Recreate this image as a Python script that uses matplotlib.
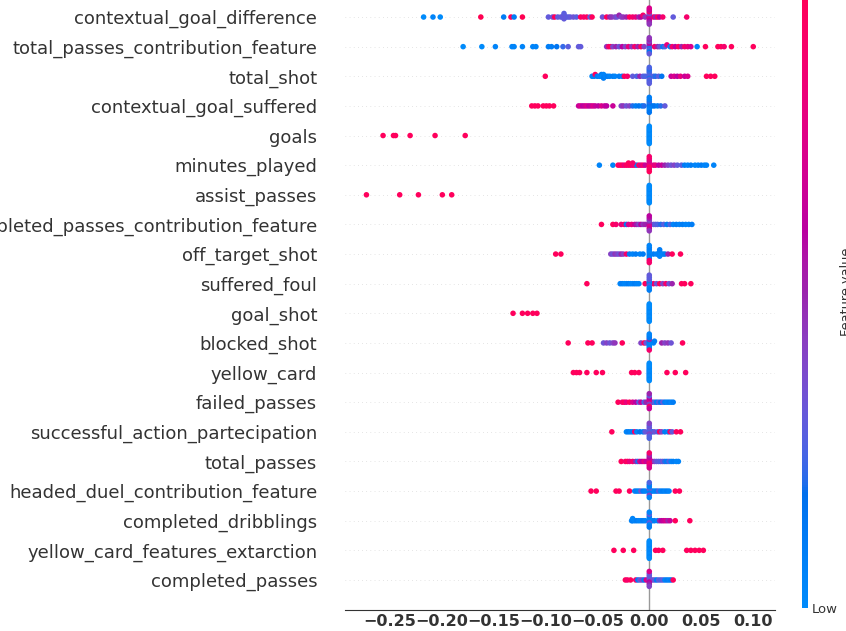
import numpy as np
import matplotlib
matplotlib.use("Agg")
import matplotlib.pyplot as plt
from matplotlib.colors import ListedColormap, Normalize
from matplotlib.cm import ScalarMappable

# features from top to bottom
features = [
    "contextual_goal_difference", "total_passes_contribution_feature", "total_shot",
    "contextual_goal_suffered", "goals", "minutes_played", "assist_passes",
    "completed_passes_contribution_feature", "off_target_shot", "suffered_foul",
    "goal_shot", "blocked_shot", "yellow_card", "failed_passes",
    "successful_action_partecipation", "total_passes", "headed_duel_contribution_feature",
    "completed_dribblings", "yellow_card_features_extarction", "completed_passes",
]

# SHAP values of the points off the centre line, one list per feature
shap_values = [
    [-0.217, -0.208, -0.201, -0.162, -0.140, -0.133, -0.130, -0.122, -0.097, -0.093, -0.091, -0.088,
     -0.085, -0.083, -0.082, -0.082, -0.082, -0.080, -0.078, -0.076, -0.073, -0.070, -0.066, -0.063,
     -0.060, -0.057, -0.055, -0.045, -0.041, -0.038, -0.036, -0.033, -0.031, -0.029, -0.027, -0.025,
     -0.022, -0.019, -0.016, -0.013, -0.010, -0.008, -0.006, -0.004, 0.004, 0.006, 0.008, 0.010,
     0.013, 0.023, 0.036],
    [-0.179, -0.161, -0.148, -0.132, -0.130, -0.122, -0.112, -0.109, -0.097, -0.094, -0.089, -0.083,
     -0.078, -0.068, -0.066, -0.041, -0.039, -0.037, -0.035, -0.032, -0.029, -0.026, -0.023, -0.020,
     -0.017, -0.014, -0.011, -0.008, -0.005, 0.005, 0.008, 0.010, 0.013, 0.015, 0.017, 0.020, 0.022,
     0.025, 0.028, 0.031, 0.034, 0.037, 0.040, 0.046, 0.054, 0.066, 0.069, 0.072, 0.079, 0.100],
    [-0.100, -0.055, -0.053, -0.052, -0.050, -0.048, -0.046, -0.046, -0.045, -0.044, -0.044, -0.042,
     -0.040, -0.038, -0.035, -0.033, -0.029, -0.026, -0.024, -0.021, -0.016, -0.012, -0.009, -0.006,
     -0.004, 0.004, 0.006, 0.009, 0.012, 0.021, 0.024, 0.027, 0.030, 0.034, 0.037, 0.055, 0.059, 0.063],
    [-0.113, -0.110, -0.107, -0.102, -0.099, -0.096, -0.092, -0.068, -0.066, -0.064, -0.062, -0.060,
     -0.058, -0.056, -0.054, -0.052, -0.049, -0.046, -0.043, -0.041, -0.035, -0.027, -0.025, -0.022,
     -0.019, -0.016, -0.013, -0.010, -0.007, -0.005, 0.003, 0.005, 0.008, 0.011, 0.015],
    [-0.256, -0.246, -0.244, -0.230, -0.206, -0.177],
    [-0.048, -0.035, -0.030, -0.028, -0.026, -0.024, -0.022, -0.020, -0.018, -0.016, -0.014, -0.012,
     -0.010, -0.008, -0.006, -0.004, 0.004, 0.006, 0.009, 0.012, 0.015, 0.018, 0.021, 0.024, 0.027,
     0.031, 0.034, 0.037, 0.040, 0.044, 0.047, 0.050, 0.053, 0.055, 0.062, -0.020, -0.016],
    [-0.272, -0.240, -0.222, -0.199, -0.190],
    [-0.046, -0.035, -0.032, -0.027, -0.024, -0.022, -0.020, -0.017, -0.014, -0.012, -0.010, -0.008,
     -0.006, -0.004, 0.004, 0.006, 0.008, 0.011, 0.014, 0.017, 0.020, 0.023, 0.026, 0.029, 0.032,
     0.035, 0.038, 0.041],
    [-0.090, -0.085, -0.037, -0.035, -0.033, -0.031, -0.029, -0.027, -0.025, -0.022, -0.019, -0.016,
     -0.013, -0.009, -0.006, 0.004, 0.007, 0.009, 0.010, 0.010, 0.010, 0.010, 0.013, 0.015, 0.018,
     0.022, 0.030],
    [-0.060, -0.028, -0.026, -0.024, -0.022, -0.020, -0.018, -0.016, -0.014, -0.012, -0.010, -0.004,
     0.004, 0.007, 0.010, 0.013, 0.016, 0.019, 0.022, 0.031, 0.034, 0.040],
    [-0.131, -0.122, -0.117, -0.112, -0.108],
    [-0.078, -0.059, -0.055, -0.044, -0.041, -0.038, -0.035, -0.033, -0.026, -0.008, -0.005, -0.003,
     0.004, 0.005, 0.012, 0.015, 0.018, 0.021, 0.032],
    [-0.073, -0.070, -0.067, -0.060, -0.051, -0.045, -0.017, -0.014, -0.010, 0.017, 0.025, 0.035],
    [-0.030, -0.026, -0.024, -0.022, -0.019, -0.016, -0.013, -0.010, -0.008, -0.005, -0.003, 0.003,
     0.005, 0.007, 0.009, 0.011, 0.013, 0.015, 0.017, 0.019, 0.021, 0.023],
    [-0.036, -0.022, -0.020, -0.018, -0.016, -0.014, -0.012, -0.009, -0.006, -0.004, 0.003, 0.005,
     0.008, 0.010, 0.012, 0.015, 0.018, 0.020, 0.022, 0.026, 0.030],
    [-0.027, -0.023, -0.021, -0.019, -0.016, -0.013, -0.011, -0.009, -0.007, -0.005, -0.003, 0.003,
     0.005, 0.007, 0.009, 0.011, 0.013, 0.015, 0.017, 0.019, 0.021, 0.023, 0.026, 0.028],
    [-0.056, -0.051, -0.032, -0.029, -0.019, -0.014, -0.012, -0.010, -0.008, -0.006, -0.004, 0.003,
     0.005, 0.007, 0.009, 0.011, 0.013, 0.015, 0.017, 0.019, 0.025, 0.029],
    [-0.017, -0.016, -0.016, -0.014, -0.012, -0.010, -0.008, -0.006, -0.004, 0.003, 0.005, 0.008,
     0.010, 0.012, 0.014, 0.016, 0.018, 0.020, 0.025, 0.039],
    [-0.034, -0.025, -0.015, 0.006, 0.009, 0.013, 0.036, 0.040, 0.044, 0.048, 0.052],
    [-0.023, -0.021, -0.018, -0.013, -0.011, -0.009, -0.007, -0.005, -0.003, 0.003, 0.005, 0.007,
     0.009, 0.011, 0.013, 0.015, 0.017, 0.019, 0.021, 0.023],
]

# normalised feature values (0 = low, 1 = high) matching shap_values
feature_values = [
    [0.0, 0.05, 0.0, 1.0, 0.1, 0.95, 0.1, 1.0, 0.3, 0.33, 0.95, 0.3, 0.3, 0.28, 0.33, 0.3, 0.28, 0.3,
     0.28, 0.3, 0.33, 0.28, 0.95, 0.88, 0.95, 0.3, 0.95, 0.33, 0.95, 0.5, 0.45, 0.4, 0.33, 0.5, 0.4,
     0.45, 0.5, 0.95, 0.88, 0.8, 0.5, 0.6, 0.88, 0.45, 0.88, 0.5, 0.95, 0.6, 0.88, 0.3, 0.88],
    [0.0, 0.0, 0.05, 0.05, 0.05, 0.05, 0.05, 0.05, 0.1, 0.1, 0.15, 0.22, 0.28, 0.3, 0.3, 0.45, 0.88,
     0.95, 0.4, 0.5, 0.33, 0.6, 0.4, 0.8, 0.45, 0.88, 0.5, 0.95, 0.4, 0.88, 0.5, 0.33, 0.1, 0.25, 0.8,
     0.05, 0.88, 0.6, 0.95, 0.5, 0.88, 0.8, 0.72, 0.05, 0.95, 0.95, 0.95, 0.88, 0.95, 0.95],
    [0.95, 0.05, 0.05, 0.95, 0.1, 0.05, 0.05, 0.1, 0.0, 0.05, 0.1, 0.05, 0.1, 0.05, 0.1, 0.05, 0.1,
     0.05, 0.95, 0.88, 0.3, 0.25, 0.5, 0.28, 0.25, 0.25, 0.2, 0.28, 0.15, 0.65, 0.72, 0.6, 0.8, 0.65,
     0.72, 0.95, 0.95, 0.95],
    [0.95, 0.95, 0.95, 0.95, 0.95, 0.95, 0.95, 0.65, 0.72, 0.6, 0.65, 0.72, 0.6, 0.65, 0.72, 0.65,
     0.6, 0.72, 0.65, 0.6, 0.65, 0.4, 0.45, 0.33, 0.4, 0.2, 0.1, 0.15, 0.1, 0.2, 0.1, 0.15, 0.1, 0.2,
     0.3],
    [0.95, 0.95, 0.95, 0.95, 0.95, 0.95],
    [0.05, 0.05, 0.95, 0.88, 0.95, 0.8, 0.95, 0.88, 0.95, 0.8, 0.88, 0.1, 0.95, 0.72, 0.88, 0.65,
     0.72, 0.8, 0.6, 0.65, 0.5, 0.4, 0.33, 0.4, 0.3, 0.28, 0.1, 0.05, 0.1, 0.05, 0.05, 0.1, 0.05,
     0.05, 0.05, 0.95, 0.88],
    [0.95, 0.95, 0.95, 0.95, 0.95],
    [0.95, 0.95, 0.88, 0.8, 0.88, 0.1, 0.72, 0.8, 0.65, 0.5, 0.4, 0.6, 0.45, 0.5, 0.3, 0.28, 0.25,
     0.2, 0.28, 0.1, 0.25, 0.05, 0.1, 0.05, 0.1, 0.05, 0.05, 0.1],
    [0.95, 0.95, 0.4, 0.33, 0.45, 0.4, 0.33, 0.5, 0.4, 0.88, 0.1, 0.05, 0.1, 0.05, 0.1, 0.1, 0.05,
     0.05, 0.1, 0.05, 0.05, 0.1, 0.05, 0.1, 0.5, 0.95, 0.95],
    [0.95, 0.05, 0.1, 0.05, 0.05, 0.1, 0.05, 0.05, 0.1, 0.05, 0.05, 0.95, 0.88, 0.33, 0.95, 0.4,
     0.88, 0.33, 0.5, 0.95, 0.95, 0.95],
    [0.95, 0.95, 0.95, 0.95, 0.95],
    [0.95, 0.95, 0.95, 0.33, 0.4, 0.33, 0.4, 0.45, 0.95, 0.4, 0.95, 0.33, 0.05, 0.1, 0.5, 0.4, 0.45,
     0.33, 0.95],
    [0.95, 0.95, 0.95, 0.95, 0.95, 0.95, 0.95, 0.95, 0.95, 0.95, 0.95, 0.95],
    [0.95, 0.88, 0.95, 0.8, 0.95, 0.72, 0.6, 0.3, 0.65, 0.25, 0.5, 0.2, 0.28, 0.1, 0.25, 0.15, 0.3,
     0.1, 0.05, 0.1, 0.05, 0.1],
    [0.95, 0.05, 0.1, 0.05, 0.1, 0.88, 0.05, 0.15, 0.1, 0.3, 0.1, 0.33, 0.25, 0.95, 0.4, 0.1, 0.05,
     0.88, 0.3, 0.95, 0.95],
    [0.95, 0.88, 0.95, 0.8, 0.88, 0.5, 0.2, 0.72, 0.6, 0.8, 0.65, 0.6, 0.4, 0.3, 0.28, 0.25, 0.33,
     0.2, 0.1, 0.25, 0.05, 0.1, 0.05, 0.05],
    [0.95, 0.95, 0.95, 0.95, 0.95, 0.05, 0.1, 0.05, 0.33, 0.1, 0.05, 0.1, 0.05, 0.1, 0.25, 0.05, 0.1,
     0.05, 0.1, 0.05, 0.95, 0.95],
    [0.05, 0.1, 0.05, 0.05, 0.1, 0.05, 0.05, 0.1, 0.05, 0.05, 0.1, 0.05, 0.5, 0.6, 0.65, 0.72, 0.5,
     0.65, 0.95, 0.95],
    [0.95, 0.95, 0.95, 0.95, 0.95, 0.95, 0.95, 0.95, 0.95, 0.95, 0.95],
    [0.95, 0.88, 0.95, 0.88, 0.1, 0.3, 0.4, 0.1, 0.72, 0.33, 0.3, 0.1, 0.28, 0.25, 0.3, 0.05, 0.1,
     0.05, 0.1, 0.95],
]

# feature values of the points whose SHAP value is exactly zero (the vertical pile)
pile_values = [
    [0.6, 0.5, 0.72, 0.4, 0.6, 0.88, 0.5, 0.65, 0.45, 0.72],
    [0.25, 0.5, 0.2, 0.6, 0.28, 0.4, 0.15, 0.5, 0.3, 0.45],
    [0.25, 0.28, 0.2, 0.25, 0.3, 0.22, 0.25, 0.2, 0.28, 0.25],
    [0.1, 0.15, 0.1, 0.2, 0.05, 0.1, 0.15, 0.1],
    [0.0, 0.05, 0.0, 0.0, 0.05, 0.0, 0.0, 0.05, 0.0, 0.0, 0.05, 0.0, 0.0, 0.0],
    [0.88, 0.8, 0.95, 0.72, 0.88, 0.8, 0.95, 0.88],
    [0.0, 0.05, 0.0, 0.0, 0.05, 0.0, 0.0, 0.05, 0.0, 0.0, 0.05, 0.0, 0.0, 0.0],
    [0.6, 0.5, 0.72, 0.4, 0.65, 0.55, 0.45, 0.6],
    [0.05, 0.05, 0.1, 0.05, 0.05, 0.1, 0.9, 0.05, 0.88],
    [0.1, 0.05, 0.25, 0.3, 0.05, 0.28, 0.1, 0.3],
    [0.0, 0.05, 0.0, 0.0, 0.05, 0.0, 0.0, 0.05, 0.0, 0.0, 0.05, 0.0, 0.0, 0.0],
    [0.05, 0.1, 0.05, 0.5, 0.05, 0.1, 0.05, 0.1, 0.88, 0.05],
    [0.0, 0.05, 0.0, 0.0, 0.05, 0.0, 0.0, 0.05, 0.0, 0.0, 0.05, 0.0, 0.0, 0.0],
    [0.5, 0.72, 0.4, 0.6, 0.88, 0.3, 0.65, 0.5],
    [0.3, 0.25, 0.4, 0.33, 0.28, 0.3, 0.25, 0.4],
    [0.8, 0.72, 0.88, 0.6, 0.8, 0.5, 0.72, 0.88],
    [0.05, 0.3, 0.1, 0.05, 0.4, 0.1, 0.05, 0.25],
    [0.1, 0.05, 0.3, 0.1, 0.05, 0.28, 0.1, 0.05],
    [0.0, 0.05, 0.0, 0.0, 0.05, 0.0, 0.0, 0.05, 0.0, 0.0, 0.05, 0.0, 0.0, 0.0],
    [0.4, 0.33, 0.6, 0.3, 0.5, 0.33, 0.4, 0.72],
]

x_ticks = [-0.25, -0.20, -0.15, -0.10, -0.05, 0.00, 0.05, 0.10]


def lch_to_rgb(l, c, h):
    a, b = c * np.cos(h), c * np.sin(h)
    fy = (l + 16) / 116
    fx, fz = fy + a / 500, fy - b / 200

    def finv(t):
        return np.where(t > 6 / 29, t ** 3, 3 * (6 / 29) ** 2 * (t - 4 / 29))

    x, y, z = 0.95047 * finv(fx), finv(fy), 1.08883 * finv(fz)
    rgb = np.stack([3.2406 * x - 1.5372 * y - 0.4986 * z,
                    -0.9689 * x + 1.8758 * y + 0.0415 * z,
                    0.0557 * x - 0.2040 * y + 1.0570 * z], axis=-1)
    rgb = np.where(rgb > 0.0031308, 1.055 * np.abs(rgb) ** (1 / 2.4) - 0.055, 12.92 * rgb)
    return np.clip(rgb, 0, 1)


# shap's blue -> red colour scale, interpolated in Lch with a darker middle
steps = np.linspace(0, 1, 256)
lightness = 54 - 14 * (1 - np.abs(2 * steps - 1))
red_blue = ListedColormap(lch_to_rgb(lightness, 70 + 20 * steps,
                                     4.6588 + (0.35470565 + 2 * np.pi - 4.6588) * steps))


def swarm(shaps, row_height=0.4, nbins=100):
    shaps = np.asarray(shaps, dtype=float)
    span = shaps.max() - shaps.min()
    quant = np.round(nbins * (shaps - shaps.min()) / (span + 1e-8))
    ys = np.zeros(len(shaps))
    layer, last_bin = 0, -1
    for ind in np.argsort(quant, kind="stable"):
        if quant[ind] != last_bin:
            layer = 0
        ys[ind] = np.ceil(layer / 2) * ((layer % 2) * 2 - 1)
        layer += 1
        last_bin = quant[ind]
    return ys * 0.9 * (row_height / np.max(ys + 1))


W, H = 846, 631
fig = plt.figure(figsize=(W / 100, H / 100), dpi=100)
ax = fig.add_axes([345 / W, 1 - 609.6 / H, 430 / W, 622.2 / H])

n = len(features)
axis_color = "#333333"
ax.axvline(x=0, color="#999999", lw=1, zorder=-1)
for i, name in enumerate(features):
    pos = n - 1 - i
    ax.axhline(y=pos, color="#cccccc", lw=0.5, dashes=(1, 5), zorder=-1)
    shaps = np.array(shap_values[i] + [0.0] * len(pile_values[i]))
    vals = np.array(feature_values[i] + pile_values[i])
    ys = swarm(shaps)
    ax.scatter(shaps, pos + ys, c=vals, cmap=red_blue, vmin=0, vmax=1, s=16,
               linewidth=0, alpha=1, zorder=3)

ax.set_xlim(-0.2926, 0.1209)
ax.set_ylim(-1, n)
ax.set_yticks(range(n))
ax.set_yticklabels(features[::-1], fontsize=13, color=axis_color)
ax.set_xticks(x_ticks)
ax.set_xticklabels([f"{t:.2f}".replace("-", "\u2212") for t in x_ticks],
                   fontsize=11.5, fontweight="bold", color=axis_color)
ax.tick_params(axis="y", length=0, pad=20)
ax.tick_params(axis="x", length=0, pad=3.5, color=axis_color)
for side in ("top", "right", "left"):
    ax.spines[side].set_visible(False)
ax.spines["bottom"].set_color(axis_color)

# colour bar
cax = fig.add_axes([802 / W, 1 - 608 / H, 6 / W, 632 / H])
cb = fig.colorbar(ScalarMappable(norm=Normalize(0, 1), cmap=red_blue), cax=cax, ticks=[0, 1])
cb.set_ticklabels(["Low", "High"])
cb.ax.tick_params(labelsize=9.5, length=0, pad=3, labelcolor=axis_color)
cb.outline.set_visible(False)
fig.text(840 / W, 1 - 292 / H, "Feature value", rotation=90, ha="left", va="center",
         fontsize=9.3, color=axis_color)

fig.savefig("out.png", dpi=100)
